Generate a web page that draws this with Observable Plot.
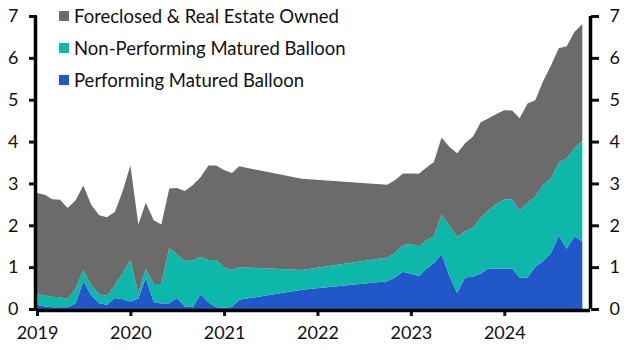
<!DOCTYPE html>
<html>
<head>
<meta charset="utf-8">
<script src="https://cdn.jsdelivr.net/npm/d3@7"></script>
<script src="https://cdn.jsdelivr.net/npm/@observablehq/plot@0.6"></script>
<style>
  html, body { margin: 0; padding: 0; background: #fff; }
  #wrap { position: relative; width: 635px; height: 350px; font-family: Lato, "Open Sans", sans-serif; }
  #legend { position: absolute; left: 59px; top: 0px; font-size: 18.5px; color: #111; }
  .row { display: flex; align-items: center; height: 32px; }
  .sw { width: 10px; height: 10px; margin-right: 5px; }
</style>
</head>
<body>
<div id="wrap"><div id="legend"></div></div>
<script>
// ---- data ----
const dates = [
  "2019-01","2019-02","2019-03","2019-04","2019-05","2019-06","2019-07","2019-08","2019-09","2019-10","2019-11","2019-12",
  "2020-01","2020-02","2020-03","2020-04","2020-05","2020-06","2020-07","2020-08","2020-09","2020-10","2020-11","2020-12",
  "2021-01","2021-02","2021-03","2021-11","2022-10","2022-11","2022-12",
  "2023-01","2023-02","2023-03","2023-04","2023-05","2023-06","2023-07","2023-08","2023-09","2023-10","2023-11","2023-12",
  "2024-01","2024-02","2024-03","2024-04","2024-05","2024-06","2024-07","2024-08","2024-09","2024-10","2024-11"
];
const performing = [
  0.10,0.06,0.04,0.04,0.04,0.14,0.66,0.33,0.14,0.10,0.26,0.23,
  0.18,0.25,0.74,0.17,0.13,0.14,0.26,0.06,0.04,0.35,0.16,0.04,
  0.03,0.05,0.22,0.46,0.66,0.76,0.89,
  0.84,0.79,0.95,1.10,1.31,0.79,0.38,0.75,0.77,0.85,0.97,0.97,
  0.96,0.96,0.75,0.75,1.01,1.14,1.33,1.75,1.44,1.73,1.61
];
const nonPerforming = [
  0.26,0.26,0.25,0.24,0.20,0.35,0.27,0.24,0.22,0.21,0.31,0.62,
  0.99,0.13,0.23,0.43,0.47,1.32,1.04,1.09,1.11,0.89,1.01,1.13,
  0.97,0.88,0.78,0.47,0.57,0.58,0.64,
  0.71,0.71,0.68,0.64,0.95,1.19,1.34,1.11,1.18,1.33,1.39,1.54,
  1.66,1.66,1.60,1.78,1.67,1.83,1.78,1.75,2.16,2.11,2.41
];
const foreclosed = [
  2.41,2.41,2.33,2.33,2.17,2.11,2.02,1.92,1.88,1.88,1.75,1.95,
  2.26,1.64,1.57,1.52,1.42,1.42,1.59,1.67,1.81,1.91,2.26,2.26,
  2.32,2.32,2.41,2.18,1.74,1.74,1.71,
  1.69,1.73,1.74,1.77,1.84,1.89,2.00,2.10,2.17,2.28,2.20,2.15,
  2.13,2.12,2.21,2.38,2.31,2.48,2.70,2.73,2.68,2.78,2.79
];
const seriesNames = ["Foreclosed & Real Estate Owned", "Non-Performing Matured Balloon", "Performing Matured Balloon"];
const seriesColors = ["#6b6b6b", "#0db8aa", "#2257c9"];
const yTicks = [0, 1, 2, 3, 4, 5, 6, 7];
const xTickYears = [2019, 2020, 2021, 2022, 2023, 2024];
const xDomain = ["2019-01-01", "2024-12-01"];

// ---- build ----
const parse = d3.utcParse("%Y-%m");
const rows = [];
dates.forEach((d, i) => {
  rows.push({date: parse(d), series: seriesNames[2], value: performing[i]});
  rows.push({date: parse(d), series: seriesNames[1], value: nonPerforming[i]});
  rows.push({date: parse(d), series: seriesNames[0], value: foreclosed[i]});
});
const xd = xDomain.map(d => new Date(d));
const xTicks = xTickYears.map(y => new Date(Date.UTC(y, 0, 1)));
const font = "Lato, 'Open Sans', sans-serif";

const chart = Plot.plot({
  width: 635,
  height: 350,
  marginLeft: 37,
  marginRight: 45,
  marginTop: 16,
  marginBottom: 41,
  style: {fontFamily: font, fontSize: "18px", color: "#111", background: "white"},
  x: {type: "utc", domain: xd},
  y: {domain: [0, 7]},
  color: {domain: seriesNames, range: seriesColors},
  marks: [
    Plot.areaY(rows, Plot.stackY({
      x: "date", y: "value", z: "series", fill: "series",
      order: [seriesNames[2], seriesNames[1], seriesNames[0]]
    })),
    Plot.axisY(yTicks, {anchor: "left", tickSize: 8, tickPadding: 11, strokeWidth: 3, label: null, fontSize: 18, fill: "#111"}),
    Plot.axisY(yTicks, {anchor: "right", tickSize: 8, tickPadding: 11, strokeWidth: 3, label: null, fontSize: 18, fill: "#111"}),
    Plot.axisX(xTicks, {anchor: "bottom", tickSize: 7, tickPadding: 10, strokeWidth: 3, label: null, tickFormat: d3.utcFormat("%Y"), fontSize: 18, fill: "#111"}),
    Plot.ruleX([xd[0]], {stroke: "black", strokeWidth: 3.5, dx: -2}),
    Plot.ruleX([xd[1]], {stroke: "black", strokeWidth: 3.5}),
    Plot.ruleY([0], {stroke: "black", strokeWidth: 3.5, dy: 1})
  ]
});
const wrap = document.getElementById("wrap");
wrap.insertBefore(chart, wrap.firstChild);

const legend = document.getElementById("legend");
seriesNames.forEach((name, i) => {
  const row = document.createElement("div");
  row.className = "row";
  const sw = document.createElement("div");
  sw.className = "sw";
  sw.style.background = seriesColors[i];
  const t = document.createElement("span");
  t.textContent = name;
  row.appendChild(sw);
  row.appendChild(t);
  legend.appendChild(row);
});
</script>
</body>
</html>
